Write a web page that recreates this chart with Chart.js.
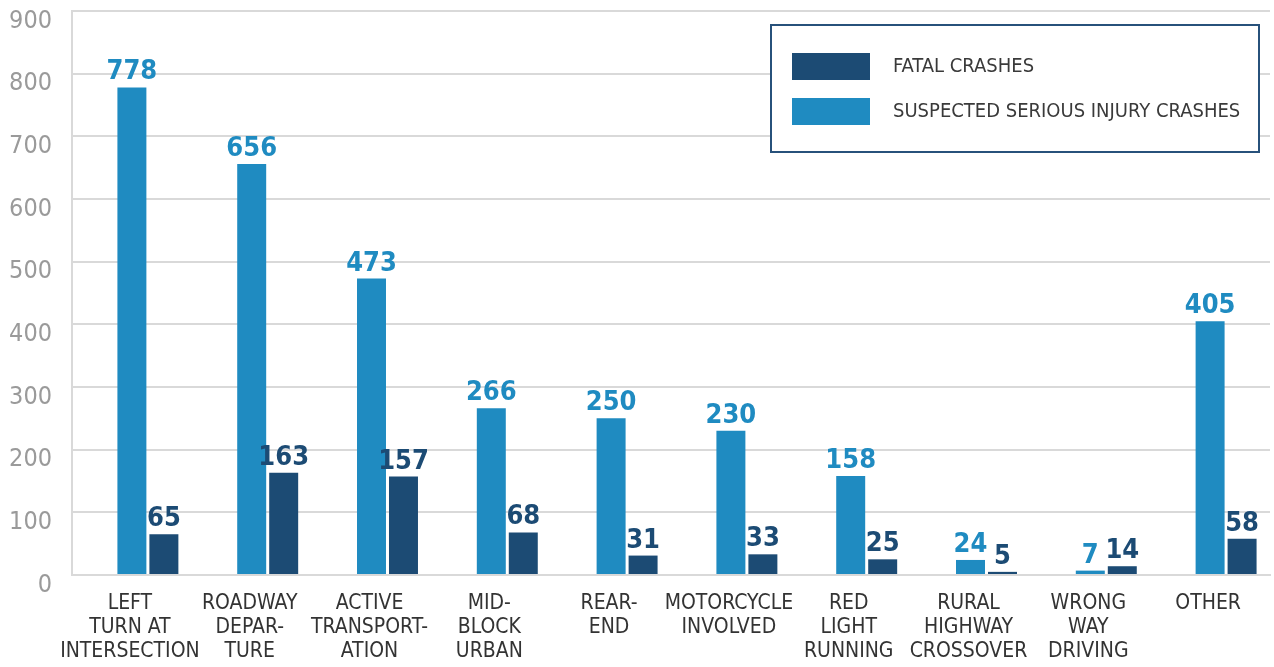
<!DOCTYPE html>
<html lang="en">
<head>
    <meta charset="UTF-8">
    <title>Crashes by Type</title>
    <script src="https://cdn.jsdelivr.net/npm/chart.js"></script>
    <style>
        body {
            margin: 0;
            background: #fff;
        }
        .chart-container {
            position: relative;
            width: 1274px;
            height: 667px;
        }
    </style>
</head>
<body>
    <div class="chart-container">
        <canvas id="crashChart"></canvas>
    </div>

    <script>
        // Data
        const categories = [
            ['LEFT', 'TURN AT', 'INTERSECTION'],
            ['ROADWAY', 'DEPAR-', 'TURE'],
            ['ACTIVE', 'TRANSPORT-', 'ATION'],
            ['MID-', 'BLOCK', 'URBAN'],
            ['REAR-', 'END'],
            ['MOTORCYCLE', 'INVOLVED'],
            ['RED', 'LIGHT', 'RUNNING'],
            ['RURAL', 'HIGHWAY', 'CROSSOVER'],
            ['WRONG', 'WAY', 'DRIVING'],
            ['OTHER']
        ];
        const seriousInjuryCrashes = [778, 656, 473, 266, 250, 230, 158, 24, 7, 405];
        const fatalCrashes = [65, 163, 157, 68, 31, 33, 25, 5, 14, 58];
        const yTickValues = [0, 100, 200, 300, 400, 500, 600, 700, 800, 900];

        const NARROW = "'DejaVu Sans Condensed', 'Liberation Sans Narrow', sans-serif";
        const LIGHT_BLUE = '#1f8bc1';
        const DARK_BLUE = '#1c4b74';
        const GRID = '#d9d9d9';

        // value labels above each bar
        const valueLabels = {
            id: 'valueLabels',
            afterDatasetsDraw(chart) {
                const ctx = chart.ctx;
                ctx.save();
                ctx.font = 'bold 27px ' + NARROW;
                ctx.textAlign = 'center';
                ctx.textBaseline = 'alphabetic';
                chart.data.datasets.forEach((ds, i) => {
                    if (ds.spacer) return;
                    const meta = chart.getDatasetMeta(i);
                    ctx.fillStyle = ds.backgroundColor;
                    meta.data.forEach((bar, j) => {
                        ctx.fillText(String(ds.data[j]), bar.x, bar.y - 8);
                    });
                });
                ctx.restore();
            }
        };

        // boxed legend in the top right
        const boxLegend = {
            id: 'boxLegend',
            afterDraw(chart) {
                const ctx = chart.ctx;
                const x = 771, y = 25, w = 488, h = 127;
                ctx.save();
                ctx.fillStyle = '#fff';
                ctx.fillRect(x, y, w, h);
                ctx.strokeStyle = '#27517b';
                ctx.lineWidth = 2;
                ctx.strokeRect(x, y, w, h);

                const order = [2, 1]; // fatal first, then serious injury
                ctx.font = '20px ' + NARROW;
                ctx.textBaseline = 'middle';
                ctx.textAlign = 'left';
                order.forEach((dsIndex, k) => {
                    const ds = chart.data.datasets[dsIndex];
                    const sy = 53 + k * 45;
                    ctx.fillStyle = ds.backgroundColor;
                    ctx.fillRect(792, sy, 78, 27);
                    ctx.fillStyle = '#3a3a3a';
                    ctx.fillText(ds.label, 893, sy + 14);
                });
                ctx.restore();
            }
        };

        const ctx = document.getElementById('crashChart').getContext('2d');
        const crashChart = new Chart(ctx, {
            type: 'bar',
            data: {
                labels: categories,
                datasets: [
                    {
                        // empty slot so the pair sits right of the category centre
                        label: '',
                        spacer: true,
                        data: categories.map(() => null),
                        backgroundColor: 'rgba(0,0,0,0)'
                    },
                    {
                        label: 'SUSPECTED SERIOUS INJURY CRASHES',
                        data: seriousInjuryCrashes,
                        backgroundColor: LIGHT_BLUE
                    },
                    {
                        label: 'FATAL CRASHES',
                        data: fatalCrashes,
                        backgroundColor: DARK_BLUE
                    }
                ]
            },
            options: {
                responsive: true,
                maintainAspectRatio: false,
                animation: false,
                layout: {
                    padding: { top: 11, right: 4, left: 0, bottom: 0 }
                },
                datasets: {
                    bar: {
                        categoryPercentage: 0.801,
                        barPercentage: 0.906
                    }
                },
                plugins: {
                    legend: { display: false },
                    tooltip: { enabled: false }
                },
                scales: {
                    x: {
                        grid: { display: false, drawTicks: false },
                        border: { display: true, color: GRID, width: 2 },
                        ticks: {
                            color: '#333',
                            font: { family: NARROW, size: 21, lineHeight: 1.14 },
                            padding: 17,
                            labelOffset: -2,
                            maxRotation: 0,
                            autoSkip: false
                        },
                        afterFit(scale) {
                            scale.height = 92;
                            scale.paddingLeft = 0;
                            scale.paddingRight = 0;
                        }
                    },
                    y: {
                        min: 0,
                        max: 900,
                        afterBuildTicks(scale) {
                            scale.ticks = yTickValues.map(v => ({ value: v }));
                        },
                        grid: { color: GRID, lineWidth: 2, drawTicks: false },
                        border: { display: true, color: GRID, width: 2 },
                        ticks: {
                            color: '#9a9a9a',
                            font: { family: NARROW, size: 25 },
                            padding: 20,
                            labelOffset: 10
                        },
                        afterFit(scale) {
                            scale.width = 72;
                            scale.paddingTop = 0;
                            scale.paddingBottom = 0;
                        }
                    }
                }
            },
            plugins: [valueLabels, boxLegend]
        });
    </script>
</body>
</html>
